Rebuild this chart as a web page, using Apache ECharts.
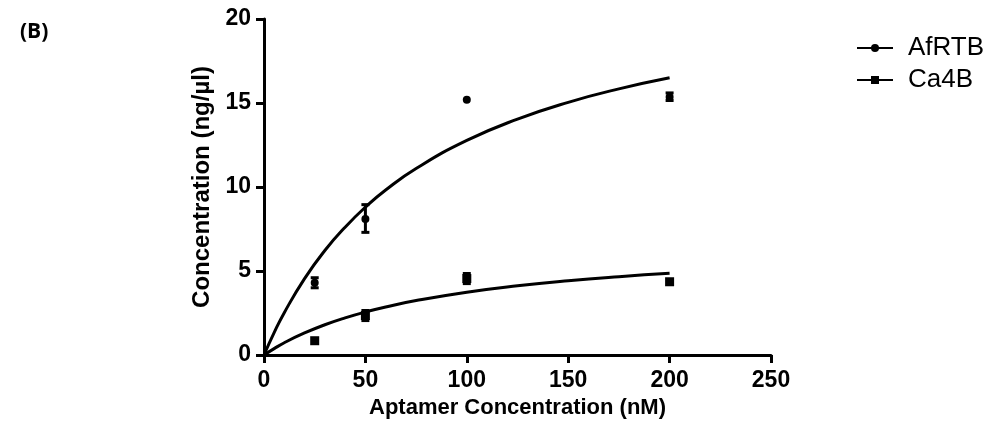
<!DOCTYPE html>
<html>
<head>
<meta charset="utf-8">
<script src="https://cdn.jsdelivr.net/npm/echarts@6/dist/echarts.min.js"></script>
<style>
html,body{margin:0;padding:0;background:#fff;}
#main{width:990px;height:444px;}
</style>
</head>
<body>
<div id="main"></div>
<script>
// fitted curves
var curveX = [0, 5, 10, 20, 30, 40, 50, 60, 75, 100, 125, 150, 175, 200];
var afrtbCurve = [0, 1.33, 2.52, 4.55, 6.22, 7.61, 8.80, 9.82, 11.10, 12.77, 14.04, 15.04, 15.84, 16.50];
var ca4bCurve = [0, 0.38, 0.73, 1.31, 1.80, 2.21, 2.56, 2.86, 3.24, 3.74, 4.12, 4.42, 4.66, 4.86];

// measured points (mean, low, high)
var pointX = [25, 50, 100, 200];
var afrtbMean = [4.3, 8.1, 15.2, 15.35];
var afrtbLow = [4.0, 7.3, 15.2, 15.15];
var afrtbHigh = [4.6, 8.95, 15.2, 15.6];
var ca4bMean = [0.85, 2.35, 4.55, 4.36];
var ca4bLow = [0.85, 2.05, 4.25, 4.36];
var ca4bHigh = [0.85, 2.65, 4.85, 4.36];

function pairs(xs, ys) {
    var out = [];
    for (var i = 0; i < xs.length; i++) out.push([xs[i], ys[i]]);
    return out;
}
function errData(xs, lo, hi) {
    var out = [];
    for (var i = 0; i < xs.length; i++) out.push([xs[i], lo[i], hi[i]]);
    return out;
}
// error bar with caps
function errRender(params, api) {
    var x = api.value(0);
    var p1 = api.coord([x, api.value(1)]);
    var p2 = api.coord([x, api.value(2)]);
    if (Math.abs(p1[1] - p2[1]) < 1) return null;
    var st = {stroke: '#000', lineWidth: 3};
    return {
        type: 'group',
        children: [
            {type: 'line', shape: {x1: p1[0], y1: p1[1], x2: p2[0], y2: p2[1]}, style: st},
            {type: 'line', shape: {x1: p1[0] - 4, y1: p1[1], x2: p1[0] + 4, y2: p1[1]}, style: st},
            {type: 'line', shape: {x1: p2[0] - 4, y1: p2[1], x2: p2[0] + 4, y2: p2[1]}, style: st}
        ]
    };
}

var myChart = echarts.init(document.getElementById('main'));
var font = 'Liberation Sans';

option = {
    animation: false,
    textStyle: {fontFamily: font},
    graphic: [{
        type: 'text', left: 20, top: 22,
        style: {text: '(B)', font: 'bold 21px "Open Sans"', fill: '#000'}
    }],
    legend: {
        orient: 'vertical',
        left: 851,
        top: 30,
        itemGap: 6,
        itemWidth: 36,
        itemHeight: 10,
        textStyle: {fontSize: 26, color: '#000', fontFamily: font, padding: [0, 0, 0, 10]},
        data: ['AfRTB', 'Ca4B']
    },
    grid: {left: 264, right: 219, top: 19, bottom: 89, containLabel: false},
    xAxis: {
        type: 'value',
        min: 0, max: 250, interval: 50,
        name: 'Aptamer Concentration (nM)',
        nameLocation: 'middle',
        nameGap: 40,
        nameTextStyle: {fontSize: 22, fontWeight: 'bold', color: '#000'},
        splitLine: {show: false},
        axisLine: {lineStyle: {color: '#000', width: 3}},
        axisTick: {length: 8, lineStyle: {color: '#000', width: 3}},
        axisLabel: {fontSize: 23, fontWeight: 'bold', color: '#000', margin: 14}
    },
    yAxis: {
        type: 'value',
        min: 0, max: 20, interval: 5,
        name: 'Concentration (ng/µl)',
        nameLocation: 'middle',
        nameGap: 38,
        nameTextStyle: {fontSize: 24, fontWeight: 'bold', color: '#000'},
        splitLine: {show: false},
        axisLine: {show: true, lineStyle: {color: '#000', width: 3}},
        axisTick: {show: true, length: 8, lineStyle: {color: '#000', width: 3}},
        axisLabel: {fontSize: 23, fontWeight: 'bold', color: '#000', margin: 13}
    },
    series: [
        {
            name: 'AfRTB', type: 'line', smooth: true,
            symbol: 'circle', symbolSize: 7, showSymbol: false,
            itemStyle: {color: '#000'},
            lineStyle: {color: '#000', width: 3},
            data: pairs(curveX, afrtbCurve)
        },
        {
            name: 'Ca4B', type: 'line', smooth: true,
            symbol: 'rect', symbolSize: 7, showSymbol: false,
            itemStyle: {color: '#000'},
            lineStyle: {color: '#000', width: 3},
            data: pairs(curveX, ca4bCurve)
        },
        {
            name: 'AfRTB', type: 'scatter', symbol: 'circle', symbolSize: 8,
            itemStyle: {color: '#000', opacity: 1},
            data: pairs(pointX, afrtbMean)
        },
        {
            name: 'Ca4B', type: 'scatter', symbol: 'rect', symbolSize: 9,
            itemStyle: {color: '#000', opacity: 1},
            data: pairs(pointX, ca4bMean)
        },
        {
            name: 'AfRTB', type: 'custom', renderItem: errRender,
            encode: {x: 0, y: [1, 2]},
            data: errData(pointX, afrtbLow, afrtbHigh)
        },
        {
            name: 'Ca4B', type: 'custom', renderItem: errRender,
            encode: {x: 0, y: [1, 2]},
            data: errData(pointX, ca4bLow, ca4bHigh)
        }
    ]
};
if (option && typeof option === "object") {
    myChart.setOption(option, true);
}
</script>
</body>
</html>
